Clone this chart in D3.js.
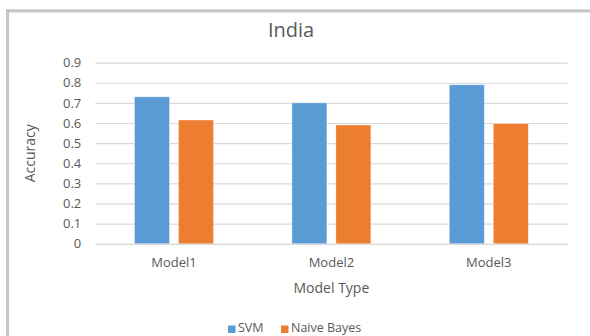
<!DOCTYPE html>
<html>
<head>
<meta charset="utf-8">
<script src="https://cdn.jsdelivr.net/npm/d3@7"></script>
<style>
  html, body { margin: 0; padding: 0; background: #ffffff; }
  svg { display: block; font-family: "Open Sans", "Noto Sans", sans-serif; }
</style>
</head>
<body>
<svg id="chart" width="590" height="336"></svg>
<script>
const categories = ["Model1", "Model2", "Model3"];
const seriesNames = ["SVM", "Naive Bayes"];
const svmValues = [0.73, 0.70, 0.79];
const nbValues = [0.615, 0.59, 0.597];
const yTicks = [0, 0.1, 0.2, 0.3, 0.4, 0.5, 0.6, 0.7, 0.8, 0.9];
const colors = ["#5B9BD5", "#ED7D31"];
const title = "India";
const xTitle = "Model Type";
const yTitle = "Accuracy";

const svg = d3.select("#chart");
const textColor = "#595959";
const gridColor = "#D9D9D9";

// chart frame
svg.append("rect").attr("x", 0).attr("y", 0).attr("width", 590).attr("height", 336).attr("fill", "#ffffff");
svg.append("line").attr("x1", 6).attr("x2", 590).attr("y1", 10.8).attr("y2", 10.8)
  .attr("stroke", "#C6C6C6").attr("stroke-width", 3.2);
svg.append("line").attr("x1", 7.5).attr("x2", 7.5).attr("y1", 9.3).attr("y2", 336)
  .attr("stroke", "#C6C6C6").attr("stroke-width", 3);

const plot = { left: 95.3, right: 567.5, top: 62.6, bottom: 243.8 };

const y = d3.scaleLinear().domain([0, 0.9]).range([plot.bottom, plot.top]);
const x0 = d3.scaleBand().domain(categories).range([plot.left, plot.right]).padding(0);
const groupW = 79;
const x1 = d3.scaleBand().domain(seriesNames).range([0, groupW]).paddingInner(9 / 44).paddingOuter(0);

// gridlines
svg.append("g").selectAll("line").data(yTicks).join("line")
  .attr("x1", plot.left).attr("x2", plot.right)
  .attr("y1", d => y(d) + 0.5).attr("y2", d => y(d) + 0.5)
  .attr("stroke", gridColor).attr("stroke-width", 1.2);

// y axis labels
const yAxis = d3.axisLeft(y).tickValues(yTicks).tickSize(0).tickPadding(0)
  .tickFormat(d => d === 0 ? "0" : d.toFixed(1));
const gy = svg.append("g").attr("transform", `translate(${plot.left - 14},0)`).call(yAxis);
gy.select(".domain").remove();
gy.selectAll("text").attr("fill", textColor).attr("font-size", 13)
  .attr("font-family", "'Open Sans', sans-serif");

// bars
const data = categories.map((c, i) => ({ cat: c, vals: [svmValues[i], nbValues[i]] }));
const groups = svg.append("g").selectAll("g").data(data).join("g")
  .attr("transform", d => `translate(${x0(d.cat) + (x0.bandwidth() - groupW) / 2},0)`);
groups.selectAll("rect").data(d => d.vals.map((v, j) => ({ s: seriesNames[j], v, j })))
  .join("rect")
  .attr("x", d => x1(d.s))
  .attr("width", x1.bandwidth())
  .attr("y", d => y(d.v))
  .attr("height", d => y(0) - y(d.v))
  .attr("fill", d => colors[d.j])
  .attr("stroke", "#ffffff").attr("stroke-opacity", 0.45).attr("stroke-width", 0.8);

// x axis
const xAxis = d3.axisBottom(x0).tickSize(0).tickPadding(14);
const gx = svg.append("g").attr("transform", `translate(0,${plot.bottom})`).call(xAxis);
gx.select(".domain").attr("stroke", gridColor).attr("stroke-width", 1.2);
gx.selectAll("text").attr("fill", textColor).attr("font-size", 13)
  .attr("font-family", "'Open Sans', sans-serif");

// title
svg.append("text").attr("x", 291).attr("y", 36.7).attr("text-anchor", "middle")
  .attr("font-size", 20).attr("fill", textColor).text(title);

// axis titles
svg.append("text").attr("x", (plot.left + plot.right) / 2).attr("y", 293.3)
  .attr("text-anchor", "middle").attr("font-size", 14).attr("fill", textColor).text(xTitle);
svg.append("text").attr("transform", `translate(35,${(plot.top + plot.bottom) / 2}) rotate(-90)`)
  .attr("text-anchor", "middle").attr("font-size", 14).attr("fill", textColor).text(yTitle);

// legend
const legendX = [228, 281];
const lg = svg.append("g").selectAll("g").data(seriesNames).join("g")
  .attr("transform", (d, i) => `translate(${legendX[i]},0)`);
lg.append("rect").attr("x", 0).attr("y", 325.5).attr("width", 7.5).attr("height", 7.5)
  .attr("fill", (d, i) => colors[i]);
lg.append("text").attr("x", 10).attr("y", 332.3).attr("font-size", 12.5)
  .attr("fill", textColor).text(d => d);
</script>
</body>
</html>
